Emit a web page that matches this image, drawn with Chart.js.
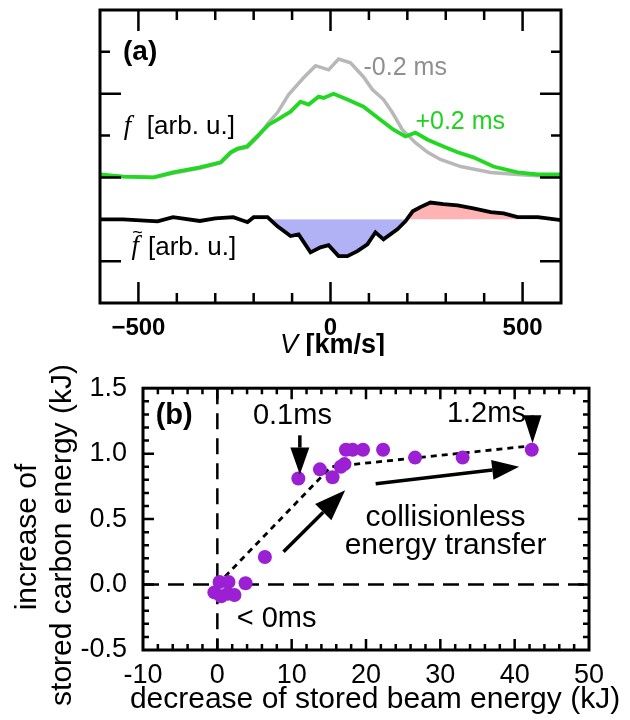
<!DOCTYPE html>
<html>
<head>
<meta charset="utf-8">
<script src="https://cdn.jsdelivr.net/npm/chart.js@4.4.1/dist/chart.umd.min.js"></script>
<style>
  html, body { margin: 0; padding: 0; background: #fff; }
  #wrap { position: relative; width: 630px; height: 720px; overflow: hidden; }
  canvas { position: absolute; left: 0; }
  #chartA { top: 0; }
  #chartB { top: 356px; }
</style>
</head>
<body>
<div id="wrap">
  <canvas id="chartA" width="630" height="356"></canvas>
  <canvas id="chartB" width="630" height="364"></canvas>
</div>
<script>
// ---- panel (a): distribution functions vs V [km/s] ----
const vGray = [-600, -540, -460, -410, -340, -285, -260, -242, -217, -190, -161, -138, -109, -70, -39, -5, 21, 52, 86, 109, 138, 161, 187, 221, 253, 286, 339, 417, 487, 540, 600];
const fGray = [0.05, 0.02, 0.0, 0.1, 0.22, 0.35, 0.58, 0.67, 0.72, 0.96, 1.31, 1.55, 1.98, 2.38, 2.67, 2.57, 2.83, 2.74, 2.4, 2.1, 1.86, 1.55, 1.14, 0.83, 0.6, 0.43, 0.26, 0.12, 0.07, 0.04, 0.04];

const vGreen = [-600, -540, -460, -410, -340, -286, -260, -242, -217, -191, -161, -138, -104, -78, -57, -31, -18, 8, 44, 86, 130, 164, 195, 221, 253, 294, 331, 372, 424, 487, 540, 600];
const fGreen = [0.07, 0.02, 0.0, 0.12, 0.24, 0.36, 0.6, 0.69, 0.74, 0.98, 1.26, 1.38, 1.57, 1.81, 1.74, 1.93, 1.9, 2.0, 1.86, 1.69, 1.38, 1.14, 0.98, 1.07, 0.9, 0.74, 0.6, 0.48, 0.26, 0.12, 0.07, 0.07];

// difference curve, drawn around its own baseline at -1
const vDiff = [-600, -540, -450, -410, -340, -300, -253, -216, -200, -164, -138, -104, -83, -52, -26, -5, 21, 44, 70, 96, 117, 138, 174, 195, 214, 234, 260, 294, 331, 372, 417, 451, 487, 540, 600];
const fDiff = [-1.0, -1.0, -1.05, -0.95, -1.04, -0.98, -0.95, -1.07, -0.95, -0.95, -1.17, -1.4, -1.36, -1.79, -1.67, -1.62, -1.88, -1.88, -1.76, -1.6, -1.31, -1.48, -1.24, -1.05, -0.81, -0.71, -0.6, -0.64, -0.67, -0.74, -0.83, -0.86, -0.95, -0.95, -1.02];
const diffBase = -1;

const vTickLabels = [-500, 0, 500];

// ---- panel (b): stored energy changes (kJ) ----
const beamDrop   = [10.9, 13.8, 15.5, 16.6, 17.1, 17.3, 18.2, 19.6, 22.3, 26.6, 33.0, 42.3, 6.4, 3.8, 0.3, 1.5, -0.4, 0.5, 1.4, 2.3];
const carbonGain = [0.81, 0.88, 0.82, 0.90, 0.92, 1.03, 1.03, 1.03, 1.03, 0.97, 0.97, 1.03, 0.21, 0.01, 0.02, 0.02, -0.06, -0.09, -0.07, -0.08];
const trendX = [0, 15.3, 42.3];
const trendY = [0, 0.9, 1.06];

const SANS = "'Liberation Sans', Arial, Helvetica, sans-serif";
const SERIF = "'Liberation Serif', 'Times New Roman', serif";
const GRAY = '#b8b8b8';
const GREEN = '#22d822';
const PURPLE = '#9b1fd3';

Chart.defaults.font.family = SANS;
Chart.defaults.color = '#000';

const pts = (xs, ys) => xs.map((v, i) => ({ x: v, y: ys[i] }));

// inward ticks on all four sides plus the box
function makeFrame(o) {
  return {
    id: 'frame',
    afterDatasetsDraw(chart) {
      const { ctx, chartArea: a, scales: { x, y } } = chart;
      const isMajor = (v, step) => Math.abs(v / step - Math.round(v / step)) < 1e-6;
      ctx.save();
      ctx.strokeStyle = '#000';
      ctx.lineWidth = o.tickWidth;
      ctx.beginPath();
      const nx = Math.round((x.max - x.min) / o.xMinor);
      for (let i = 1; i < nx; i++) {
        const v = x.min + i * o.xMinor;
        const px = x.getPixelForValue(v);
        const len = isMajor(v, o.xMajor) ? o.major : o.minor;
        ctx.moveTo(px, a.top); ctx.lineTo(px, a.top + len);
        ctx.moveTo(px, a.bottom); ctx.lineTo(px, a.bottom - len);
      }
      const ny = Math.round((y.max - y.min) / o.yMinor);
      for (let i = 1; i < ny; i++) {
        const v = y.min + i * o.yMinor;
        const py = y.getPixelForValue(v);
        const len = isMajor(v, o.yMajor) ? o.major : o.minor;
        ctx.moveTo(a.left, py); ctx.lineTo(a.left + len, py);
        ctx.moveTo(a.right, py); ctx.lineTo(a.right - len, py);
      }
      ctx.stroke();
      ctx.lineWidth = o.boxWidth;
      ctx.strokeRect(a.left, a.top, a.right - a.left, a.bottom - a.top);
      ctx.restore();
    }
  };
}

function drawArrow(ctx, x0, y0, x1, y1, headLen, headW, lw) {
  const ang = Math.atan2(y1 - y0, x1 - x0);
  const bx = x1 - headLen * Math.cos(ang), by = y1 - headLen * Math.sin(ang);
  ctx.lineWidth = lw;
  ctx.beginPath();
  ctx.moveTo(x0, y0); ctx.lineTo(bx, by);
  ctx.stroke();
  const nx = -Math.sin(ang) * headW / 2, ny = Math.cos(ang) * headW / 2;
  ctx.beginPath();
  ctx.moveTo(x1, y1);
  ctx.lineTo(bx + nx, by + ny);
  ctx.lineTo(bx - nx, by - ny);
  ctx.closePath();
  ctx.fill();
}

// text and arrows placed in data units
function makeNotes(items, arrows, extra) {
  return {
    id: 'notes',
    afterDatasetsDraw(chart) {
      const { ctx, scales: { x, y } } = chart;
      ctx.save();
      ctx.fillStyle = '#000';
      ctx.strokeStyle = '#000';
      (arrows || []).forEach(a => drawArrow(ctx,
        x.getPixelForValue(a.x0), y.getPixelForValue(a.y0),
        x.getPixelForValue(a.x1), y.getPixelForValue(a.y1), a.head, a.headW, 3.5));
      items.forEach(n => {
        ctx.font = n.font;
        ctx.fillStyle = n.color || '#000';
        ctx.textAlign = n.align || 'left';
        ctx.textBaseline = 'middle';
        ctx.fillText(n.t, x.getPixelForValue(n.x), y.getPixelForValue(n.y));
      });
      if (extra) extra(chart, ctx);
      ctx.restore();
    }
  };
}

// ---------- chart (a) ----------
const notesA = [
  { t: '(a)', x: -540, y: 3.0, font: 'bold 28px ' + SANS },
  { t: '-0.2 ms', x: 86, y: 2.62, font: '25px ' + SANS, color: '#8f8f8f' },
  { t: '+0.2 ms', x: 221, y: 1.33, font: '25px ' + SANS, color: '#1fd21f' },
  { t: 'f', x: -538, y: 1.21, font: 'italic 27px ' + SERIF },
  { t: '[arb. u.]', x: -478, y: 1.21, font: '26px ' + SANS },
  { t: 'f', x: -518, y: -1.67, font: 'italic 27px ' + SERIF },
  { t: '~', x: -516, y: -1.34, font: '18px ' + SANS },
  { t: '[arb. u.]', x: -475, y: -1.67, font: '26px ' + SANS }
];

function titleA(chart, ctx) {
  const a = chart.chartArea;
  const f1 = 'italic 27px ' + SANS, f2 = 'bold 27px ' + SANS;
  ctx.font = f1; const w1 = ctx.measureText('V').width;
  ctx.font = f2; const w2 = ctx.measureText(' [km/s]').width;
  const x0 = (a.left + a.right) / 2 + 2 - (w1 + w2) / 2;
  ctx.fillStyle = '#000';
  ctx.textAlign = 'left';
  ctx.textBaseline = 'alphabetic';
  ctx.font = f1; ctx.fillText('V', x0, a.bottom + 50);
  ctx.font = f2; ctx.fillText(' [km/s]', x0 + w1, a.bottom + 50);
}

new Chart(document.getElementById('chartA'), {
  type: 'line',
  data: {
    datasets: [
      { label: '+0.2 ms', data: pts(vGreen, fGreen), borderColor: GREEN, borderWidth: 3.8, pointRadius: 0, order: 1 },
      { label: '-0.2 ms', data: pts(vGray, fGray), borderColor: GRAY, borderWidth: 3.5, pointRadius: 0, order: 2 },
      { label: 'difference', data: pts(vDiff, fDiff), borderColor: '#000', borderWidth: 3.8, pointRadius: 0, order: 0,
        fill: { target: { value: diffBase }, above: '#ffb3b3', below: '#b1b1f6' } }
    ]
  },
  options: {
    responsive: false,
    animation: false,
    events: [],
    layout: { padding: { left: 100, right: 69, top: 10, bottom: 0 } },
    plugins: { legend: { display: false }, tooltip: { enabled: false } },
    scales: {
      x: {
        type: 'linear', min: -600, max: 600,
        afterFit: s => { s.height = 53; },
        grid: { display: false, drawTicks: false },
        border: { display: false },
        ticks: {
          stepSize: 100, autoSkip: false, maxRotation: 0, padding: 11,
          font: { size: 24, weight: 'bold' },
          callback: v => vTickLabels.includes(v) ? (v < 0 ? '\u2212' + Math.abs(v) : String(v)) : ''
        }
      },
      y: { display: false, min: -3, max: 4 }
    }
  },
  plugins: [
    makeFrame({ xMinor: 100, xMajor: 500, yMinor: 1, yMajor: 2, major: 21, minor: 10, tickWidth: 2.5, boxWidth: 3 }),
    makeNotes(notesA, [], titleA)
  ]
});

// ---------- chart (b) ----------
const notesB = [
  { t: '(b)', x: -8.3, y: 1.285, font: 'bold 29px ' + SANS },
  { t: '0.1ms', x: 10.1, y: 1.285, font: '29px ' + SANS, align: 'center' },
  { t: '1.2ms', x: 36.2, y: 1.3, font: '29px ' + SANS, align: 'center' },
  { t: 'collisionless', x: 30.7, y: 0.51, font: '30px ' + SANS, align: 'center' },
  { t: 'energy transfer', x: 30.7, y: 0.3, font: '30px ' + SANS, align: 'center' },
  { t: '< 0ms', x: 2.6, y: -0.26, font: '29px ' + SANS }
];
const arrowsB = [
  { x0: 11.1, y0: 1.14, x1: 11.1, y1: 0.84, head: 27, headW: 19 },
  { x0: 42.4, y0: 1.29, x1: 42.4, y1: 1.08, head: 28, headW: 18 },
  { x0: 8.9, y0: 0.25, x1: 17.2, y1: 0.72, head: 31, headW: 23 },
  { x0: 21.3, y0: 0.77, x1: 40.6, y1: 0.9, head: 27, headW: 20 }
];

function titlesB(chart, ctx) {
  const a = chart.chartArea;
  ctx.fillStyle = '#000';
  ctx.font = '30px ' + SANS;
  ctx.textAlign = 'center';
  ctx.textBaseline = 'middle';
  ctx.fillText('decrease of stored beam energy (kJ)', 375, a.bottom + 50);
  ctx.save();
  ctx.translate(28, 181);
  ctx.rotate(-Math.PI / 2);
  ctx.fillText('increase of', 0, 0);
  ctx.restore();
  ctx.save();
  ctx.translate(63, 179);
  ctx.rotate(-Math.PI / 2);
  ctx.fillText('stored carbon energy (kJ)', 0, 0);
  ctx.restore();
}

const zeroLines = {
  id: 'zeroLines',
  beforeDatasetsDraw(chart) {
    const { ctx, chartArea: a, scales: { x, y } } = chart;
    ctx.save();
    ctx.strokeStyle = '#000';
    ctx.lineWidth = 2.5;
    ctx.setLineDash([16, 9]);
    ctx.beginPath();
    const px = x.getPixelForValue(0), py = y.getPixelForValue(0);
    ctx.moveTo(px, a.top); ctx.lineTo(px, a.bottom);
    ctx.moveTo(a.left, py); ctx.lineTo(a.right, py);
    ctx.stroke();
    ctx.restore();
  }
};

new Chart(document.getElementById('chartB'), {
  type: 'scatter',
  data: {
    datasets: [
      { label: 'shots', data: pts(beamDrop, carbonGain), backgroundColor: PURPLE, borderWidth: 0, pointRadius: 7, order: 1 },
      { type: 'line', label: 'trend', data: pts(trendX, trendY), borderColor: '#000', borderWidth: 2.8,
        borderDash: [6, 5], pointRadius: 0, fill: false, order: 2 }
    ]
  },
  options: {
    responsive: false,
    animation: false,
    events: [],
    layout: { padding: { left: 0, right: 41, top: 17, bottom: 0 } },
    plugins: { legend: { display: false }, tooltip: { enabled: false } },
    scales: {
      x: {
        type: 'linear', min: -10, max: 50,
        afterFit: s => { s.height = 70; },
        grid: { display: false, drawTicks: false },
        border: { display: false },
        ticks: { stepSize: 10, padding: 9, maxRotation: 0, autoSkip: false, font: { size: 27 } }
      },
      y: {
        min: -0.5, max: 1.5,
        afterFit: s => { s.width = 143; },
        grid: { display: false, drawTicks: false },
        border: { display: false },
        ticks: { stepSize: 0.5, padding: 16, font: { size: 27 }, callback: v => v.toFixed(1) }
      }
    }
  },
  plugins: [
    zeroLines,
    makeFrame({ xMinor: 2, xMajor: 10, yMinor: 0.1, yMajor: 0.5, major: 11, minor: 6, tickWidth: 2.5, boxWidth: 3 }),
    makeNotes(notesB, arrowsB, titlesB)
  ]
});
</script>
</body>
</html>
